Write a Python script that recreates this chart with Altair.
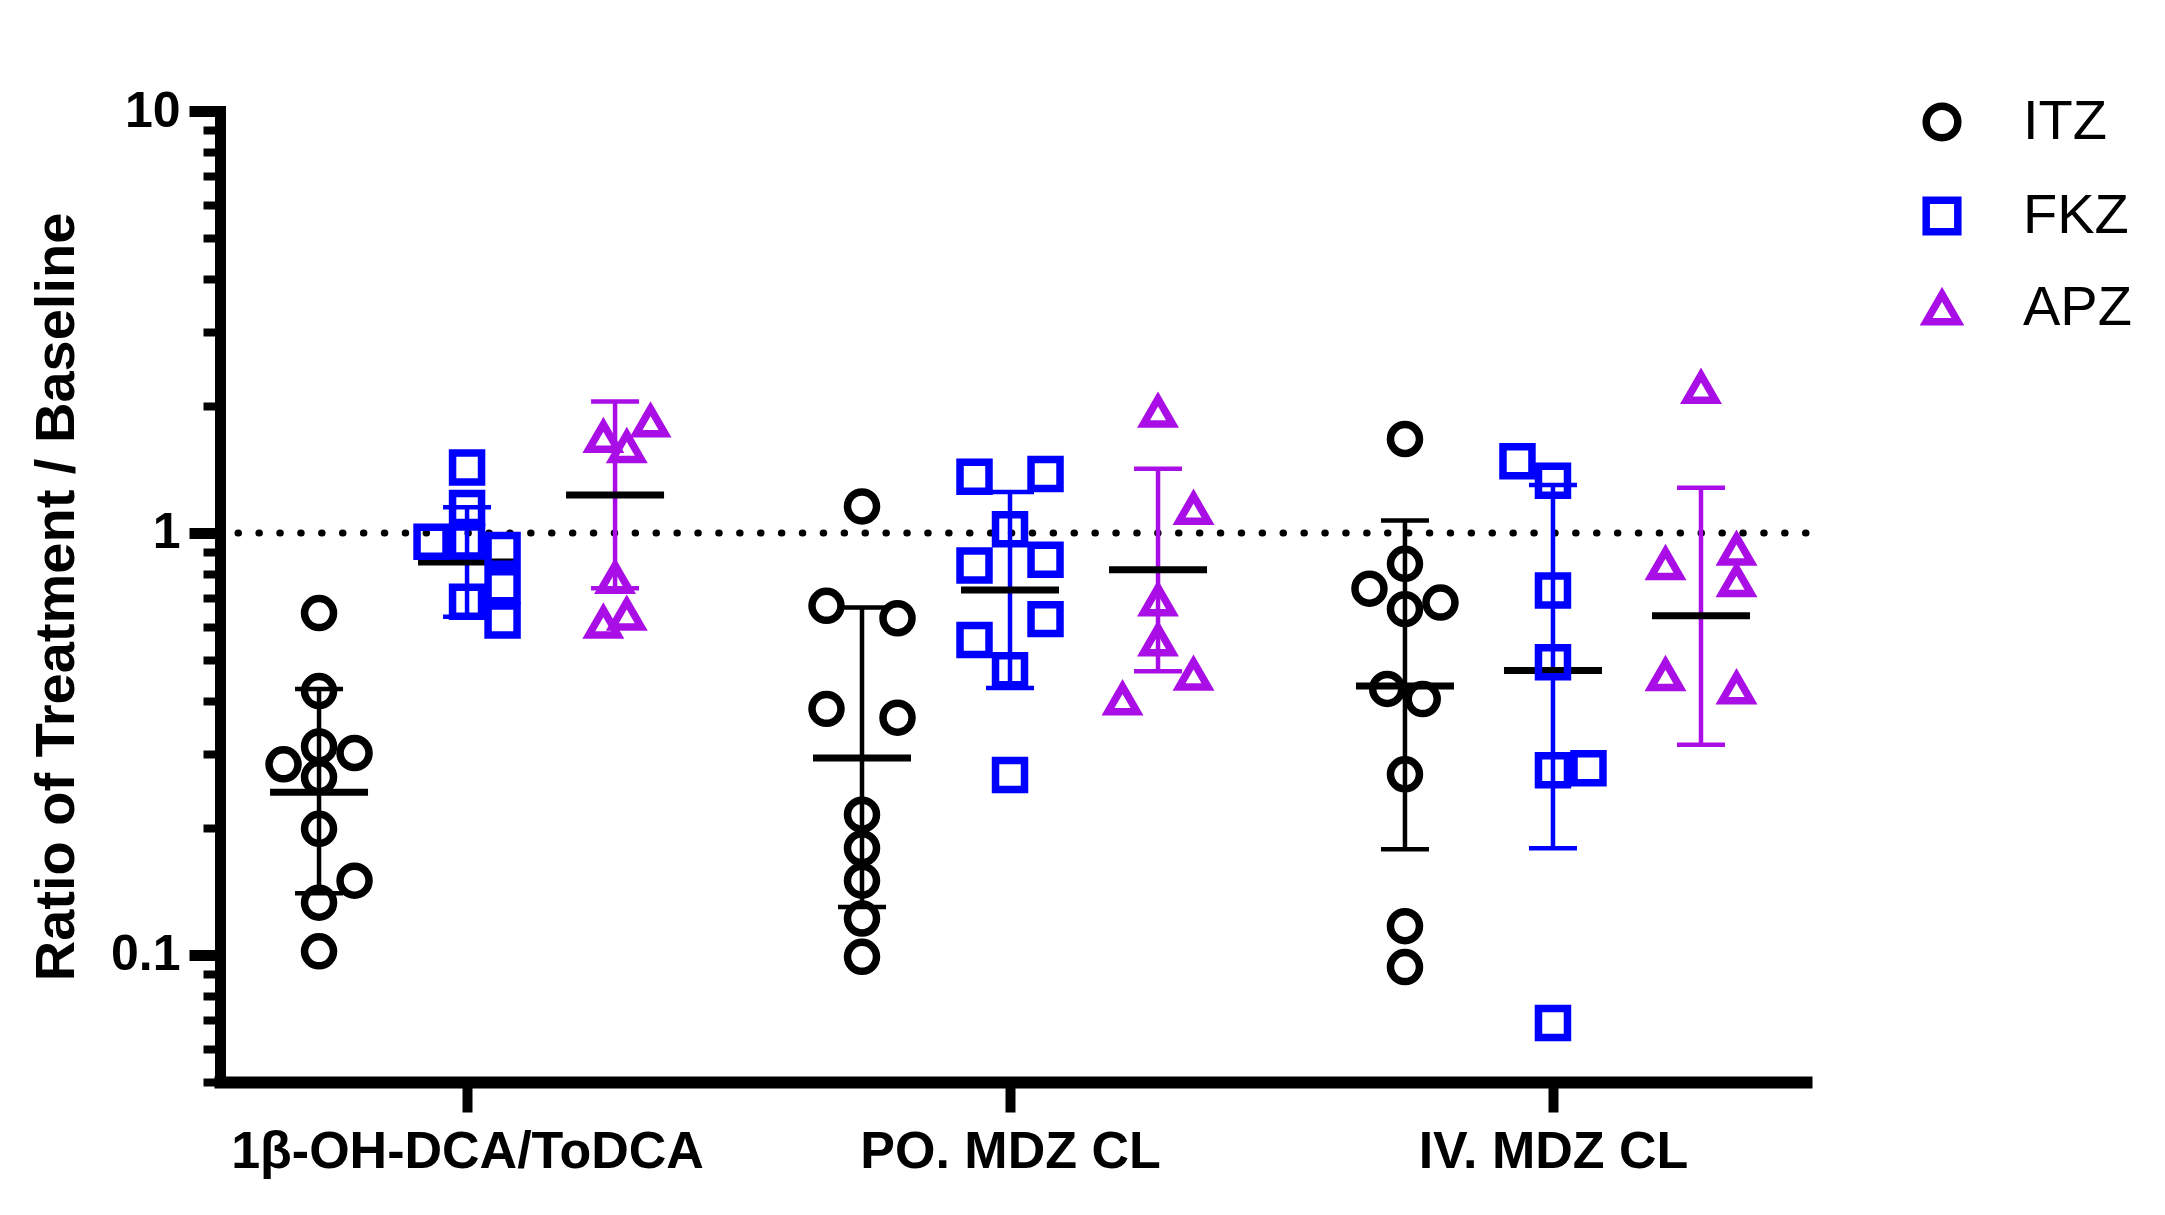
import altair as alt
import pandas as pd

# ---------------- data ----------------
groups = ["1β-OH-DCA/ToDCA", "PO. MDZ CL", "IV. MDZ CL"]
drugs = ["ITZ", "FKZ", "APZ"]
colors = ["#000000", "#0000FF", "#AA0EE6"]
shapes = ["circle", "square", "triangle-up"]

# individual ratios per group (beeswarm column index alongside)
itz_vals = [
    [0.646, 0.422, 0.312, 0.301, 0.283, 0.264, 0.199, 0.150, 0.133, 0.102],
    [1.156, 0.672, 0.628, 0.383, 0.365, 0.215, 0.179, 0.150, 0.122, 0.099],
    [1.67, 0.845, 0.738, 0.660, 0.684, 0.427, 0.404, 0.268, 0.117, 0.0936],
]
itz_cols = [
    [0, 0, 0, 1, -1, 0, 0, 1, 0, 0],
    [0, -1, 1, -1, 1, 0, 0, 0, 0, 0],
    [0, 0, -1, 0, 1, -0.5, 0.5, 0, 0, 0],
]
fkz_vals = [
    [1.43, 1.146, 0.953, 0.955, 0.912, 0.748, 0.687, 0.620],
    [1.36, 1.38, 1.02, 0.864, 0.837, 0.625, 0.558, 0.473, 0.267],
    [1.48, 1.33, 0.731, 0.494, 0.274, 0.277, 0.069],
]
fkz_cols = [
    [0, 0, -1, 0, 1, 1, 0, 1],
    [-1, 1, 0, 1, -1, 1, -1, 0, 0],
    [-1, 0, 0, 0, 0, 1, 0],
]
apz_vals = [
    [1.69, 1.84, 1.60, 0.783, 0.641, 0.614],
    [1.94, 1.142, 0.693, 0.557, 0.462, 0.404],
    [2.21, 0.914, 0.845, 0.770, 0.461, 0.429],
]
apz_cols = [
    [-0.33, 1, 0.33, 0, 0.33, -0.33],
    [0, 1, 0, 0, 1, -1],
    [0, 1, -1, 1, -1, 1],
]

# summary: mean line and error bar limits
itz_mean = [0.243, 0.293, 0.434]
itz_low = [0.140, 0.130, 0.178]
itz_high = [0.427, 0.666, 1.07]
fkz_mean = [0.853, 0.733, 0.472]
fkz_low = [0.633, 0.429, 0.179]
fkz_high = [1.15, 1.25, 1.30]
apz_mean = [1.23, 0.818, 0.637]
apz_low = [0.74, 0.47, 0.315]
apz_high = [2.05, 1.42, 1.28]

y_major = [0.1, 1, 10]
y_minor = [0.05, 0.06, 0.07, 0.08, 0.09,
           0.2, 0.3, 0.4, 0.5, 0.6, 0.7, 0.8, 0.9,
           2, 3, 4, 5, 6, 7, 8, 9]
baseline_ref = [1]

# ---------------- tables ----------------
vals = {"ITZ": itz_vals, "FKZ": fkz_vals, "APZ": apz_vals}
cols = {"ITZ": itz_cols, "FKZ": fkz_cols, "APZ": apz_cols}
means = {"ITZ": itz_mean, "FKZ": fkz_mean, "APZ": apz_mean}
lows = {"ITZ": itz_low, "FKZ": fkz_low, "APZ": apz_low}
highs = {"ITZ": itz_high, "FKZ": fkz_high, "APZ": apz_high}

pts = []
summ = []
for gi in range(len(groups)):
    for d in drugs:
        for v, c in zip(vals[d][gi], cols[d][gi]):
            pts.append({"g": gi + 1, "drug": d, "value": v, "col": c})
        summ.append({"g": gi + 1, "drug": d, "mean": means[d][gi],
                     "lower": lows[d][gi], "upper": highs[d][gi]})
pts = pd.DataFrame(pts)
summ = pd.DataFrame(summ)
ref = pd.DataFrame({"ref": baseline_ref})

XPOS = ("datum.g + (datum.drug === 'ITZ' ? -0.2726 : datum.drug === 'APZ' ? 0.2726 : 0)"
        " + datum.col * 0.0654")
XPOS_S = "datum.g + (datum.drug === 'ITZ' ? -0.2726 : datum.drug === 'APZ' ? 0.2726 : 0)"
COLOR_EXPR = " : ".join(
    [f"datum.drug === '{d}' ? '{c}'" for d, c in zip(drugs, colors)]) + " : 'black'"

FONT = "Liberation Sans"
W, H = 1586, 971

xscale = alt.Scale(domain=[0.545, 3.466], nice=False, zero=False)
yscale = alt.Scale(type="log", domain=[0.05, 10], nice=False)
cscale = alt.Scale(domain=drugs, range=colors)
sscale = alt.Scale(domain=drugs, range=shapes)

label_expr_x = " : ".join(
    [f"datum.value == {i + 1} ? '{g}'" for i, g in enumerate(groups)]) + " : ''"
major_test = " || ".join([f"datum.value == {m}" for m in y_major])

xaxis = alt.Axis(values=[1, 2, 3], labelExpr=label_expr_x, title=None, grid=False,
                 tickSize=30, tickWidth=10, tickColor="black",
                 domainColor="black", domainWidth=12, domainCap="square",
                 labelFont=FONT, labelFontWeight="bold", labelFontSize=52,
                 labelColor="black", labelPadding=39, labelBaseline="middle",
                 labelFlush=False, labelOverlap=False, labelLimit=0)

yaxis = alt.Axis(values=y_major + y_minor,
                 labelExpr=f"({major_test}) ? format(datum.value, '~g') : ''",
                 title="Ratio of Treatment / Baseline", grid=False,
                 tickSize={"condition": {"test": major_test, "value": 31}, "value": 17},
                 tickWidth={"condition": {"test": major_test, "value": 11}, "value": 8},
                 tickColor="black",
                 domainColor="black", domainWidth=11, domainCap="square",
                 labelFont=FONT, labelFontWeight="bold", labelFontSize=50,
                 labelColor="black", labelPadding=9, labelBaseline="middle",
                 labelOverlap=False, labelBound=False, labelFlush=False,
                 titleFont=FONT, titleFontWeight="bold", titleFontSize=56,
                 titleColor="black", titleAngle=270, titleAlign="center",
                 titleBaseline="middle", titleX=-164, titleY=H / 2)


def X():
    return alt.X("xpos:Q", scale=xscale, axis=xaxis)


def Y(field):
    return alt.Y(field, scale=yscale, axis=yaxis)


dotted = alt.Chart(ref).mark_rule(
    color="black", strokeWidth=7, strokeDash=[0.5, 20.4], strokeCap="round"
).encode(y=Y("ref:Q"))

err = alt.Chart(summ).transform_calculate(
    xpos=XPOS_S, ecol=COLOR_EXPR
).mark_rule(strokeWidth=4.5).encode(
    x=X(), y=Y("lower:Q"), y2="upper:Q",
    color=alt.Color("ecol:N", scale=None))

caps = alt.Chart(summ).transform_calculate(
    xpos=XPOS_S, ecol=COLOR_EXPR
).transform_fold(
    ["lower", "upper"], as_=["which", "capval"]
).mark_tick(orient="horizontal", size=48, thickness=4.5, opacity=1).encode(
    x=X(), y=Y("capval:Q"),
    color=alt.Color("ecol:N", scale=None))

mean = alt.Chart(summ).transform_calculate(xpos=XPOS_S).mark_tick(
    orient="horizontal", size=98, thickness=7, color="black", opacity=1
).encode(x=X(), y=Y("mean:Q"))

leg = alt.Legend(title=None, orient="none", legendX=1694, legendY=-17,
                 labelFont=FONT, labelFontSize=56, labelColor="black",
                 symbolSize=1000, symbolStrokeWidth=7.5, rowPadding=32,
                 labelOffset=53, padding=0)

points = alt.Chart(pts).transform_calculate(xpos=XPOS).mark_point(
    filled=False, size=840, opacity=1, strokeWidth=7.5
).encode(
    x=X(), y=Y("value:Q"),
    color=alt.Color("drug:N", scale=cscale, legend=leg),
    shape=alt.Shape("drug:N", scale=sscale, legend=leg),
)

chart = alt.layer(dotted, err, caps, mean, points).properties(
    width=W, height=H,
    autosize=alt.AutoSizeParams(type="none"),
    padding={"left": 212, "top": 103, "right": 345, "bottom": 120},
).configure(
    background="white", font=FONT
).configure_view(stroke=None)

chart.save("out.html", embed_options={"renderer": "svg", "actions": False})
